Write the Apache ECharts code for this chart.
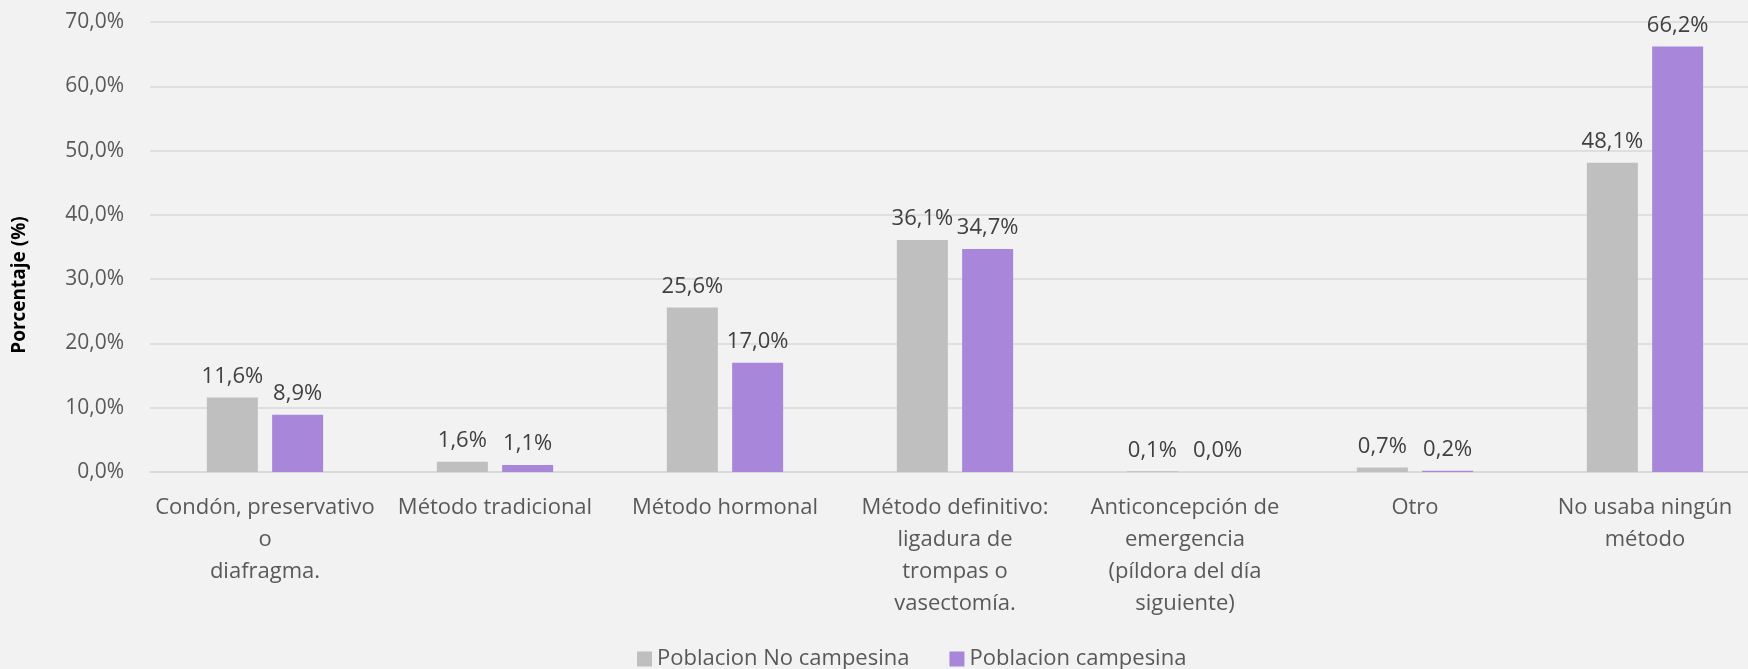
<!DOCTYPE html>
<html>
<head>
<meta charset="utf-8">
<script src="https://cdn.jsdelivr.net/npm/echarts@6/dist/echarts.min.js"></script>
<style>
  html, body { margin: 0; padding: 0; background: #f2f2f2; }
  #chart { width: 1748px; height: 669px; }
</style>
</head>
<body>
<div id="chart"></div>
<script>
// categorias del eje x
var categorias = [
    'Condón, preservativo\no\ndiafragma.',
    'Método tradicional',
    'Método hormonal',
    'Método definitivo:\nligadura de\ntrompas o\nvasectomía.',
    'Anticoncepción de\nemergencia\n(píldora del día\nsiguiente)',
    'Otro',
    'No usaba ningún\nmétodo'
];
var noCampesina = [11.6, 1.6, 25.6, 36.1, 0.1, 0.7, 48.1];
var campesina = [8.9, 1.1, 17.0, 34.7, 0.0, 0.2, 66.2];
var nombresSeries = ['Poblacion No campesina', 'Poblacion campesina'];

var fuente = '"Open Sans", "Noto Sans", sans-serif';
var tam = 22;

function pct(v) {
    return v.toFixed(1).replace('.', ',') + '%';
}

function etiqueta() {
    return {
        show: true,
        position: 'top',
        distance: 10,
        color: '#404040',
        fontSize: tam,
        fontFamily: fuente,
        formatter: function (p) { return pct(p.value); }
    };
}

var chartDom = document.getElementById('chart');
var myChart = echarts.init(chartDom);
var option;

option = {
    backgroundColor: '#f2f2f2',
    animation: false,
    textStyle: { fontFamily: fuente },
    legend: {
        top: 643,
        left: 632,
        itemWidth: 15,
        itemHeight: 15,
        itemGap: 40,
        icon: 'rect',
        textStyle: { color: '#595959', fontSize: tam, fontFamily: fuente },
        data: nombresSeries
    },
    grid: {
        left: 150,
        top: 22,
        height: 450,
        width: 1610,
        outerBoundsMode: 'none'
    },
    xAxis: {
        type: 'category',
        data: categorias,
        axisLine: { lineStyle: { color: '#d9d9d9', width: 1.5 } },
        axisTick: { show: false },
        axisLabel: {
            interval: 0,
            margin: 20,
            color: '#595959',
            fontSize: tam,
            lineHeight: 32,
            fontFamily: fuente
        }
    },
    yAxis: {
        type: 'value',
        min: 0,
        max: 70,
        interval: 10,
        name: 'Porcentaje (%)',
        nameLocation: 'middle',
        nameGap: 121,
        nameTextStyle: {
            color: '#000',
            fontSize: 19,
            fontWeight: 'bold',
            fontFamily: fuente,
            padding: [0, 76, 0, 0]
        },
        axisLine: { show: false },
        axisTick: { show: false },
        splitLine: { lineStyle: { color: '#d9d9d9', width: 1.5 } },
        axisLabel: {
            margin: 26,
            color: '#595959',
            fontSize: 21,
            fontFamily: fuente,
            formatter: function (v) { return pct(v); }
        }
    },
    series: [
        {
            name: nombresSeries[0],
            type: 'bar',
            data: noCampesina,
            barWidth: 51,
            barGap: '28%',
            itemStyle: { color: '#bfbfbf' },
            label: etiqueta()
        },
        {
            name: nombresSeries[1],
            type: 'bar',
            data: campesina,
            barWidth: 51,
            barGap: '28%',
            itemStyle: { color: '#a886d9' },
            label: etiqueta()
        }
    ]
};

option && myChart.setOption(option);
</script>
</body>
</html>
